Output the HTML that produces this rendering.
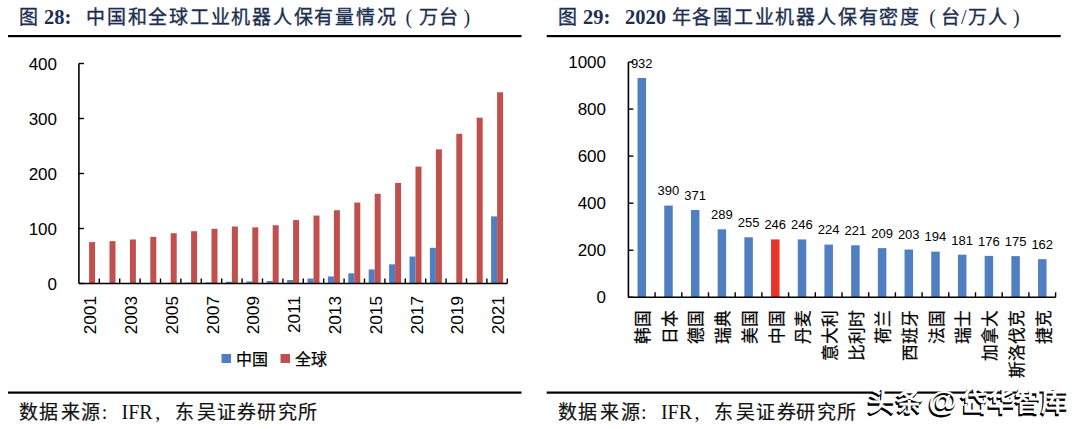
<!DOCTYPE html>
<html lang="zh-CN"><head><meta charset="utf-8"><style>
html,body{margin:0;padding:0;background:#fff;width:1080px;height:429px;overflow:hidden}
svg{display:block}
.ax{font-family:"Liberation Sans",sans-serif;font-size:17px;fill:#000}
.dl{font-family:"Liberation Sans",sans-serif;font-size:13px;fill:#000}
.lg{font-family:"Liberation Sans",sans-serif;font-size:16px;fill:#000;stroke:#000;stroke-width:0.25px}
.cn{font-family:"Liberation Sans",sans-serif;font-size:16.8px;fill:#000;stroke:#000;stroke-width:0.25px}
.axr{font-family:"Liberation Sans",sans-serif;font-size:17.2px;fill:#000}
.tc{font-family:"Liberation Serif",serif;font-size:19px;fill:#1d2f50;stroke:#1d2f50;stroke-width:0.35px}
.tp{font-family:"Liberation Serif",serif;font-size:20px;fill:#1d2f50}
.tb{font-family:"Liberation Serif",serif;font-size:20.5px;font-weight:bold;fill:#1d2f50}
.sc{font-family:"Liberation Serif",serif;font-size:19px;fill:#111;stroke:#111;stroke-width:0.2px}
.sp{font-family:"Liberation Serif",serif;font-size:20px;fill:#111}
.wm{font-family:"Liberation Sans",sans-serif;font-size:26.5px;font-weight:bold}
.wma{font-family:"Liberation Sans",sans-serif;font-size:30px;font-weight:bold}
</style></head><body>
<svg width="1080" height="429" viewBox="0 0 1080 429">
<rect x="83.1" y="283.44" width="6" height="0.06" fill="#4f7fc0"/>
<rect x="89.1" y="242.09" width="6" height="41.41" fill="#c0504d"/>
<rect x="103.5" y="283.39" width="6" height="0.11" fill="#4f7fc0"/>
<rect x="109.5" y="241.15" width="6" height="42.35" fill="#c0504d"/>
<rect x="123.9" y="283.28" width="6" height="0.22" fill="#4f7fc0"/>
<rect x="129.9" y="239.5" width="6" height="44" fill="#c0504d"/>
<rect x="144.3" y="283.17" width="6" height="0.33" fill="#4f7fc0"/>
<rect x="150.3" y="236.86" width="6" height="46.64" fill="#c0504d"/>
<rect x="164.7" y="282.89" width="6" height="0.61" fill="#4f7fc0"/>
<rect x="170.7" y="233.23" width="6" height="50.27" fill="#c0504d"/>
<rect x="185.1" y="282.68" width="6" height="0.83" fill="#4f7fc0"/>
<rect x="191.1" y="231.19" width="6" height="52.3" fill="#c0504d"/>
<rect x="205.5" y="282.4" width="6" height="1.1" fill="#4f7fc0"/>
<rect x="211.5" y="228.78" width="6" height="54.73" fill="#c0504d"/>
<rect x="225.9" y="281.74" width="6" height="1.76" fill="#4f7fc0"/>
<rect x="231.9" y="226.52" width="6" height="56.98" fill="#c0504d"/>
<rect x="246.3" y="281.46" width="6" height="2.04" fill="#4f7fc0"/>
<rect x="252.3" y="227.34" width="6" height="56.16" fill="#c0504d"/>
<rect x="266.7" y="281.02" width="6" height="2.48" fill="#4f7fc0"/>
<rect x="272.7" y="225.25" width="6" height="58.25" fill="#c0504d"/>
<rect x="287.1" y="279.98" width="6" height="3.52" fill="#4f7fc0"/>
<rect x="293.1" y="220.08" width="6" height="63.42" fill="#c0504d"/>
<rect x="307.5" y="278.55" width="6" height="4.95" fill="#4f7fc0"/>
<rect x="313.5" y="215.57" width="6" height="67.93" fill="#c0504d"/>
<rect x="327.9" y="276.46" width="6" height="7.04" fill="#4f7fc0"/>
<rect x="333.9" y="210.24" width="6" height="73.26" fill="#c0504d"/>
<rect x="348.3" y="273.32" width="6" height="10.18" fill="#4f7fc0"/>
<rect x="354.3" y="202.54" width="6" height="80.96" fill="#c0504d"/>
<rect x="368.7" y="269.42" width="6" height="14.08" fill="#4f7fc0"/>
<rect x="374.7" y="193.74" width="6" height="89.76" fill="#c0504d"/>
<rect x="389.1" y="264.31" width="6" height="19.2" fill="#4f7fc0"/>
<rect x="395.1" y="182.96" width="6" height="100.54" fill="#c0504d"/>
<rect x="409.5" y="256.55" width="6" height="26.95" fill="#4f7fc0"/>
<rect x="415.5" y="166.62" width="6" height="116.88" fill="#c0504d"/>
<rect x="429.9" y="247.81" width="6" height="35.7" fill="#4f7fc0"/>
<rect x="435.9" y="149.35" width="6" height="134.15" fill="#c0504d"/>
<rect x="456.3" y="133.79" width="6" height="149.71" fill="#c0504d"/>
<rect x="476.7" y="117.67" width="6" height="165.83" fill="#c0504d"/>
<rect x="491.1" y="216.4" width="6" height="67.1" fill="#4f7fc0"/>
<rect x="497.1" y="92.26" width="6" height="191.24" fill="#c0504d"/>
<line x1="78.9" y1="63.5" x2="78.9" y2="283.5" stroke="#000" stroke-width="1.6"/>
<line x1="78.9" y1="283.5" x2="83.9" y2="283.5" stroke="#000" stroke-width="1.4"/>
<text x="57" y="289.5" text-anchor="end" class="ax">0</text>
<line x1="78.9" y1="228.5" x2="83.9" y2="228.5" stroke="#000" stroke-width="1.4"/>
<text x="57" y="234.5" text-anchor="end" class="ax">100</text>
<line x1="78.9" y1="173.5" x2="83.9" y2="173.5" stroke="#000" stroke-width="1.4"/>
<text x="57" y="179.5" text-anchor="end" class="ax">200</text>
<line x1="78.9" y1="118.5" x2="83.9" y2="118.5" stroke="#000" stroke-width="1.4"/>
<text x="57" y="124.5" text-anchor="end" class="ax">300</text>
<line x1="78.9" y1="63.5" x2="83.9" y2="63.5" stroke="#000" stroke-width="1.4"/>
<text x="57" y="69.5" text-anchor="end" class="ax">400</text>
<line x1="78.9" y1="283.5" x2="507.3" y2="283.5" stroke="#000" stroke-width="1.6"/>
<line x1="99.3" y1="278.5" x2="99.3" y2="283.5" stroke="#000" stroke-width="1.4"/>
<line x1="119.7" y1="278.5" x2="119.7" y2="283.5" stroke="#000" stroke-width="1.4"/>
<line x1="140.1" y1="278.5" x2="140.1" y2="283.5" stroke="#000" stroke-width="1.4"/>
<line x1="160.5" y1="278.5" x2="160.5" y2="283.5" stroke="#000" stroke-width="1.4"/>
<line x1="180.9" y1="278.5" x2="180.9" y2="283.5" stroke="#000" stroke-width="1.4"/>
<line x1="201.3" y1="278.5" x2="201.3" y2="283.5" stroke="#000" stroke-width="1.4"/>
<line x1="221.7" y1="278.5" x2="221.7" y2="283.5" stroke="#000" stroke-width="1.4"/>
<line x1="242.1" y1="278.5" x2="242.1" y2="283.5" stroke="#000" stroke-width="1.4"/>
<line x1="262.5" y1="278.5" x2="262.5" y2="283.5" stroke="#000" stroke-width="1.4"/>
<line x1="282.9" y1="278.5" x2="282.9" y2="283.5" stroke="#000" stroke-width="1.4"/>
<line x1="303.3" y1="278.5" x2="303.3" y2="283.5" stroke="#000" stroke-width="1.4"/>
<line x1="323.7" y1="278.5" x2="323.7" y2="283.5" stroke="#000" stroke-width="1.4"/>
<line x1="344.1" y1="278.5" x2="344.1" y2="283.5" stroke="#000" stroke-width="1.4"/>
<line x1="364.5" y1="278.5" x2="364.5" y2="283.5" stroke="#000" stroke-width="1.4"/>
<line x1="384.9" y1="278.5" x2="384.9" y2="283.5" stroke="#000" stroke-width="1.4"/>
<line x1="405.3" y1="278.5" x2="405.3" y2="283.5" stroke="#000" stroke-width="1.4"/>
<line x1="425.7" y1="278.5" x2="425.7" y2="283.5" stroke="#000" stroke-width="1.4"/>
<line x1="446.1" y1="278.5" x2="446.1" y2="283.5" stroke="#000" stroke-width="1.4"/>
<line x1="466.5" y1="278.5" x2="466.5" y2="283.5" stroke="#000" stroke-width="1.4"/>
<line x1="486.9" y1="278.5" x2="486.9" y2="283.5" stroke="#000" stroke-width="1.4"/>
<line x1="507.3" y1="278.5" x2="507.3" y2="283.5" stroke="#000" stroke-width="1.4"/>
<text transform="translate(96.2,296) rotate(-90)" text-anchor="end" class="axr">2001</text>
<text transform="translate(137,296) rotate(-90)" text-anchor="end" class="axr">2003</text>
<text transform="translate(177.8,296) rotate(-90)" text-anchor="end" class="axr">2005</text>
<text transform="translate(218.6,296) rotate(-90)" text-anchor="end" class="axr">2007</text>
<text transform="translate(259.4,296) rotate(-90)" text-anchor="end" class="axr">2009</text>
<text transform="translate(300.2,296) rotate(-90)" text-anchor="end" class="axr">2011</text>
<text transform="translate(341,296) rotate(-90)" text-anchor="end" class="axr">2013</text>
<text transform="translate(381.8,296) rotate(-90)" text-anchor="end" class="axr">2015</text>
<text transform="translate(422.6,296) rotate(-90)" text-anchor="end" class="axr">2017</text>
<text transform="translate(463.4,296) rotate(-90)" text-anchor="end" class="axr">2019</text>
<text transform="translate(504.2,296) rotate(-90)" text-anchor="end" class="axr">2021</text>
<rect x="221.5" y="354" width="9.5" height="9" fill="#4f7fc0"/>
<text x="236" y="364.5" class="lg">中国</text>
<rect x="280.5" y="354" width="9.5" height="9" fill="#c0504d"/>
<text x="295" y="364.5" class="lg">全球</text>
<rect x="637.55" y="78" width="8.5" height="219.3" fill="#4f7fc0"/>
<text x="641.75" y="67.8" text-anchor="middle" class="dl">932</text>
<text transform="translate(649.05,310.3) rotate(-90)" text-anchor="end" class="cn">韩国</text>
<rect x="664.25" y="205.53" width="8.5" height="91.77" fill="#4f7fc0"/>
<text x="668.45" y="195.33" text-anchor="middle" class="dl">390</text>
<text transform="translate(675.75,310.3) rotate(-90)" text-anchor="end" class="cn">日本</text>
<rect x="690.95" y="210" width="8.5" height="87.3" fill="#4f7fc0"/>
<text x="695.15" y="199.8" text-anchor="middle" class="dl">371</text>
<text transform="translate(702.45,310.3) rotate(-90)" text-anchor="end" class="cn">德国</text>
<rect x="717.65" y="229.3" width="8.5" height="68" fill="#4f7fc0"/>
<text x="721.85" y="219.1" text-anchor="middle" class="dl">289</text>
<text transform="translate(729.15,310.3) rotate(-90)" text-anchor="end" class="cn">瑞典</text>
<rect x="744.35" y="237.3" width="8.5" height="60" fill="#4f7fc0"/>
<text x="748.55" y="227.1" text-anchor="middle" class="dl">255</text>
<text transform="translate(755.85,310.3) rotate(-90)" text-anchor="end" class="cn">美国</text>
<rect x="771.05" y="239.42" width="8.5" height="57.88" fill="#e8332a"/>
<text x="775.25" y="229.22" text-anchor="middle" class="dl">246</text>
<text transform="translate(782.55,310.3) rotate(-90)" text-anchor="end" class="cn">中国</text>
<rect x="797.75" y="239.42" width="8.5" height="57.88" fill="#4f7fc0"/>
<text x="801.95" y="229.22" text-anchor="middle" class="dl">246</text>
<text transform="translate(809.25,310.3) rotate(-90)" text-anchor="end" class="cn">丹麦</text>
<rect x="824.45" y="244.59" width="8.5" height="52.71" fill="#4f7fc0"/>
<text x="828.65" y="234.39" text-anchor="middle" class="dl">224</text>
<text transform="translate(835.95,310.3) rotate(-90)" text-anchor="end" class="cn">意大利</text>
<rect x="851.15" y="245.3" width="8.5" height="52" fill="#4f7fc0"/>
<text x="855.35" y="235.1" text-anchor="middle" class="dl">221</text>
<text transform="translate(862.65,310.3) rotate(-90)" text-anchor="end" class="cn">比利时</text>
<rect x="877.85" y="248.12" width="8.5" height="49.18" fill="#4f7fc0"/>
<text x="882.05" y="237.92" text-anchor="middle" class="dl">209</text>
<text transform="translate(889.35,310.3) rotate(-90)" text-anchor="end" class="cn">荷兰</text>
<rect x="904.55" y="249.53" width="8.5" height="47.77" fill="#4f7fc0"/>
<text x="908.75" y="239.33" text-anchor="middle" class="dl">203</text>
<text transform="translate(916.05,310.3) rotate(-90)" text-anchor="end" class="cn">西班牙</text>
<rect x="931.25" y="251.65" width="8.5" height="45.65" fill="#4f7fc0"/>
<text x="935.45" y="241.45" text-anchor="middle" class="dl">194</text>
<text transform="translate(942.75,310.3) rotate(-90)" text-anchor="end" class="cn">法国</text>
<rect x="957.95" y="254.71" width="8.5" height="42.59" fill="#4f7fc0"/>
<text x="962.15" y="244.51" text-anchor="middle" class="dl">181</text>
<text transform="translate(969.45,310.3) rotate(-90)" text-anchor="end" class="cn">瑞士</text>
<rect x="984.65" y="255.89" width="8.5" height="41.41" fill="#4f7fc0"/>
<text x="988.85" y="245.69" text-anchor="middle" class="dl">176</text>
<text transform="translate(996.15,310.3) rotate(-90)" text-anchor="end" class="cn">加拿大</text>
<rect x="1011.35" y="256.12" width="8.5" height="41.18" fill="#4f7fc0"/>
<text x="1015.55" y="245.92" text-anchor="middle" class="dl">175</text>
<text transform="translate(1022.85,310.3) rotate(-90)" text-anchor="end" class="cn">斯洛伐克</text>
<rect x="1038.05" y="259.18" width="8.5" height="38.12" fill="#4f7fc0"/>
<text x="1042.25" y="248.98" text-anchor="middle" class="dl">162</text>
<text transform="translate(1049.55,310.3) rotate(-90)" text-anchor="end" class="cn">捷克</text>
<line x1="628.4" y1="62" x2="628.4" y2="297.3" stroke="#000" stroke-width="1.6"/>
<line x1="628.4" y1="297.3" x2="633.4" y2="297.3" stroke="#000" stroke-width="1.4"/>
<text x="606" y="303.3" text-anchor="end" class="ax">0</text>
<line x1="628.4" y1="250.24" x2="633.4" y2="250.24" stroke="#000" stroke-width="1.4"/>
<text x="606" y="256.24" text-anchor="end" class="ax">200</text>
<line x1="628.4" y1="203.18" x2="633.4" y2="203.18" stroke="#000" stroke-width="1.4"/>
<text x="606" y="209.18" text-anchor="end" class="ax">400</text>
<line x1="628.4" y1="156.12" x2="633.4" y2="156.12" stroke="#000" stroke-width="1.4"/>
<text x="606" y="162.12" text-anchor="end" class="ax">600</text>
<line x1="628.4" y1="109.06" x2="633.4" y2="109.06" stroke="#000" stroke-width="1.4"/>
<text x="606" y="115.06" text-anchor="end" class="ax">800</text>
<line x1="628.4" y1="62" x2="633.4" y2="62" stroke="#000" stroke-width="1.4"/>
<text x="606" y="68" text-anchor="end" class="ax">1000</text>
<line x1="628.4" y1="297.3" x2="1055.6" y2="297.3" stroke="#000" stroke-width="1.6"/>
<line x1="655.1" y1="292.3" x2="655.1" y2="297.3" stroke="#000" stroke-width="1.4"/>
<line x1="681.8" y1="292.3" x2="681.8" y2="297.3" stroke="#000" stroke-width="1.4"/>
<line x1="708.5" y1="292.3" x2="708.5" y2="297.3" stroke="#000" stroke-width="1.4"/>
<line x1="735.2" y1="292.3" x2="735.2" y2="297.3" stroke="#000" stroke-width="1.4"/>
<line x1="761.9" y1="292.3" x2="761.9" y2="297.3" stroke="#000" stroke-width="1.4"/>
<line x1="788.6" y1="292.3" x2="788.6" y2="297.3" stroke="#000" stroke-width="1.4"/>
<line x1="815.3" y1="292.3" x2="815.3" y2="297.3" stroke="#000" stroke-width="1.4"/>
<line x1="842" y1="292.3" x2="842" y2="297.3" stroke="#000" stroke-width="1.4"/>
<line x1="868.7" y1="292.3" x2="868.7" y2="297.3" stroke="#000" stroke-width="1.4"/>
<line x1="895.4" y1="292.3" x2="895.4" y2="297.3" stroke="#000" stroke-width="1.4"/>
<line x1="922.1" y1="292.3" x2="922.1" y2="297.3" stroke="#000" stroke-width="1.4"/>
<line x1="948.8" y1="292.3" x2="948.8" y2="297.3" stroke="#000" stroke-width="1.4"/>
<line x1="975.5" y1="292.3" x2="975.5" y2="297.3" stroke="#000" stroke-width="1.4"/>
<line x1="1002.2" y1="292.3" x2="1002.2" y2="297.3" stroke="#000" stroke-width="1.4"/>
<line x1="1028.9" y1="292.3" x2="1028.9" y2="297.3" stroke="#000" stroke-width="1.4"/>
<line x1="1055.6" y1="292.3" x2="1055.6" y2="297.3" stroke="#000" stroke-width="1.4"/>
<rect x="8" y="35" width="513.5" height="2.2" fill="#000"/>
<rect x="8" y="391.5" width="513.5" height="2.2" fill="#000"/>
<rect x="546.7" y="35" width="514" height="2.2" fill="#000"/>
<rect x="546.7" y="391.5" width="514" height="2.2" fill="#000"/>
<text x="28.35" y="24" text-anchor="middle" class="tc">图</text>
<text x="44" y="24" class="tb">28:</text>
<text x="95.7 116.45 137.2 157.95 178.7 199.45 220.2 240.95 261.7 282.45 303.2 323.95 344.7 365.45 386.2" y="24" text-anchor="middle" class="tc">中国和全球工业机器人保有量情况</text>
<text x="408.9" y="24" text-anchor="middle" class="tp">(</text>
<text x="428 448" y="24" text-anchor="middle" class="tc">万台</text>
<text x="466.8" y="24" text-anchor="middle" class="tp">)</text>
<text x="567.1" y="24" text-anchor="middle" class="tc">图</text>
<text x="583" y="24" class="tb">29:</text>
<text x="625" y="24" class="tb">2020</text>
<text x="681 701.78 722.56 743.34 764.12 784.9 805.68 826.46 847.24 868.02 888.8 909.58" y="24" text-anchor="middle" class="tc">年各国工业机器人保有密度</text>
<text x="932.6" y="24" text-anchor="middle" class="tp">(</text>
<text x="950.7" y="24" text-anchor="middle" class="tc">台</text>
<text x="963.7" y="24" text-anchor="middle" class="tp">/</text>
<text x="977.8 997.8" y="24" text-anchor="middle" class="tc">万人</text>
<text x="1016.3" y="24" text-anchor="middle" class="tp">)</text>
<text x="28.2 48.5 70 90.8" y="418.6" text-anchor="middle" class="sc">数据来源</text>
<text x="104.5" y="418.6" text-anchor="middle" class="sp">:</text>
<text x="121.5" y="418.6" class="sp">IFR</text>
<text x="157.7" y="418.6" text-anchor="middle" class="sp">,</text>
<text x="184.4 206 226.1 246.6 266.3 287.1 307.2" y="418.6" text-anchor="middle" class="sc">东吴证券研究所</text>
<text x="567.6 587.9 609.4 630.2" y="418.6" text-anchor="middle" class="sc">数据来源</text>
<text x="643.9" y="418.6" text-anchor="middle" class="sp">:</text>
<text x="660.9" y="418.6" class="sp">IFR</text>
<text x="697.1" y="418.6" text-anchor="middle" class="sp">,</text>
<text x="723.8 745.4 765.5 786 805.7 826.5 846.6" y="418.6" text-anchor="middle" class="sc">东吴证券研究所</text>
<text x="880.2 907.5 972.5 999.5 1026.5 1053.1" y="412.5" text-anchor="middle" class="wm" fill="#000" stroke="#000" stroke-width="0.7">头条岱华智库</text>
<text x="941.8" y="413" text-anchor="middle" class="wma" fill="#000" stroke="#000" stroke-width="0.7">@</text>
<text x="881.2 908.5 973.5 1000.5 1027.5 1054.1" y="410.5" text-anchor="middle" class="wm" fill="#fff">头条岱华智库</text>
<text x="942.8" y="411" text-anchor="middle" class="wma" fill="#fff">@</text>
</svg>
</body></html>
